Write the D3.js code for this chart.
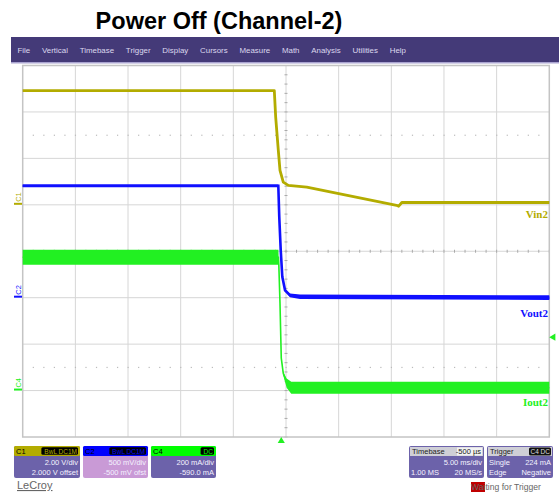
<!DOCTYPE html>
<html><head><meta charset="utf-8">
<script src="https://cdn.jsdelivr.net/npm/d3@7"></script>
<style>body{margin:0;background:#fff}svg{display:block}</style>
</head><body>
<svg id="c" width="559" height="496"></svg>
<script>
// ---------------- data ----------------
const menuItems = ["File","Vertical","Timebase","Trigger","Display","Cursors","Measure","Math","Analysis","Utilities","Help"];

// time in ms relative to screen centre (5 ms/div), levels in divisions
const vinTime  = [-25, -1.11, -0.98, -0.73, -0.57, -0.26, 0.22, 1.97, 10.5, 10.7, 11.0, 25];
const vinLevel = [3.46, 3.46, 2.89, 2.17, 1.74, 1.49, 1.42, 1.38, 0.99, 0.97, 1.05, 1.05];

const voutTime  = [-25, -0.73, -0.64, -0.50, -0.35, -0.09, 0.38, 1.33, 25];
const voutLevel = [1.41, 1.41, 0.74, 0.02, -0.55, -0.84, -0.95, -0.98, -1.0];
const voutNoise = [0.03, 0.03, 0.0, 0.0, 0.0, 0.02, 0.04, 0.05, 0.05];

const ioutTime  = [-25, -0.72, -0.68, -0.57, -0.45, -0.26, 0.06, 0.5, 25];
const ioutLevel = [-0.13, -0.13, -0.3, -1.12, -2.3, -2.63, -2.84, -2.94, -2.94];
const ioutNoise = [0.16, 0.16, 0.01, 0.01, 0.01, 0.03, 0.1, 0.13, 0.13];

const traceNames  = ["Vin2", "Vout2", "Iout2"];
const traceLabelLevel = [0.71, -1.41, -3.34];
const chanMarkers = ["C1", "C2", "C4"];
const chanOffsetDiv = [1, -1, -3];

const boxLabels = ["C1", "C2", "C4"];
const boxBadges = ["BwL DC1M", "BwL DC1M", "DC"];
const boxLine1  = ["2.00 V/div", "500 mV/div", "200 mA/div"];
const boxLine2  = ["2.000 V offset", "-500 mV ofst", "-590.0 mA"];

const tbRows   = [["", "5.00 ms/div"], ["1.00 MS", "20 MS/s"]];
const trigRows = [["Single", "224 mA"], ["Edge", "Negative"]];
const triggerTime = -0.45;   // ms, trigger marker on the time axis
const triggerLevel = -1.85;  // div, trigger level marker

// ---------------- layout ----------------
const svg = d3.select("#c");
const W = 559;
const P = {l: 22.7, r: 549.3, t: 65.5, b: 437};
const col = {yel: "#b3ac00", blue: "#1010ff", green: "#22f022", menu: "#443a78",
             body: "#6c62aa", pink: "#c99ad6", grid: "#d6d6d6"};

const x = d3.scaleLinear().domain([-25, 25]).range([P.l, P.r]);
const y = d3.scaleLinear().domain([-4, 4]).range([P.b, P.t]);

// title
svg.append("text").attr("x", 219).attr("y", 29).attr("text-anchor", "middle")
  .attr("font-family", "Liberation Sans, Arial, sans-serif").attr("font-weight", "bold")
  .attr("font-size", 23.5).attr("fill", "#000").text("Power Off (Channel-2)");

// menu bar
svg.append("rect").attr("x", 11).attr("y", 37).attr("width", W - 11).attr("height", 25).attr("fill", col.menu);
svg.append("rect").attr("x", 11).attr("y", 62).attr("width", W - 11).attr("height", 1.5).attr("fill", "#a9a3d0");
let mx = 17.5;
const mg = svg.append("g");
menuItems.forEach(m => {
  const t = mg.append("text").attr("x", mx).attr("y", 52.5).attr("font-family", "Liberation Sans, Arial, sans-serif")
    .attr("font-size", 7.9).attr("fill", "#dcd8ee").text(m);
  mx += t.node().getComputedTextLength() + 11.8;
});

// grid
const g = svg.append("g");
g.selectAll(".vg").data(d3.range(-20, 25, 5)).join("line")
  .attr("x1", d => x(d)).attr("x2", d => x(d)).attr("y1", P.t).attr("y2", P.b)
  .attr("stroke", col.grid).attr("stroke-width", 1);
g.selectAll(".hg").data(d3.range(-3, 4, 1)).join("line")
  .attr("y1", d => y(d)).attr("y2", d => y(d)).attr("x1", P.l).attr("x2", P.r)
  .attr("stroke", col.grid).attr("stroke-width", 1);
// centre minor ticks
g.selectAll(".tv").data(d3.range(-4, 4.01, 0.2)).join("line")
  .attr("x1", x(0) - 1.5).attr("x2", x(0) + 1.5).attr("y1", d => y(d)).attr("y2", d => y(d))
  .attr("stroke", "#aaa").attr("stroke-width", 1);
g.selectAll(".th").data(d3.range(-25, 25.01, 1)).join("line")
  .attr("y1", y(0) - 1.5).attr("y2", y(0) + 1.5).attr("x1", d => x(d)).attr("x2", d => x(d))
  .attr("stroke", "#aaa").attr("stroke-width", 1);
// dotted rows at +/- 2.5 div
[2.5, -2.5].forEach(lv => {
  g.selectAll(null).data(d3.range(-24, 25, 1)).join("rect")
    .attr("x", d => x(d) - 0.5).attr("y", y(lv) - 0.5).attr("width", 1.2).attr("height", 1.2).attr("fill", "#bbb");
});
g.append("rect").attr("x", P.l).attr("y", P.t).attr("width", P.r - P.l).attr("height", P.b - P.t)
  .attr("fill", "none").attr("stroke", "#c4c4c4").attr("stroke-width", 1.5);

// traces
const line = d3.line().x(d => x(d[0])).y(d => y(d[1]));
const area = d3.area().x(d => x(d[0])).y0(d => y(d[1] - d[2])).y1(d => y(d[1] + d[2]));

svg.append("path").attr("d", line(d3.zip(vinTime, vinLevel)))
  .attr("fill", "none").attr("stroke", col.yel).attr("stroke-width", 2.8).attr("stroke-linejoin", "round");

const vz = d3.zip(voutTime, voutLevel, voutNoise);
svg.append("path").attr("d", area(vz)).attr("fill", col.blue);
svg.append("path").attr("d", line(vz)).attr("fill", "none").attr("stroke", col.blue).attr("stroke-width", 2.6);

const iz = d3.zip(ioutTime, ioutLevel, ioutNoise);
svg.append("path").attr("d", area(iz)).attr("fill", col.green);
svg.append("path").attr("d", line(iz)).attr("fill", "none").attr("stroke", col.green).attr("stroke-width", 1.6);

// trace labels
const tcol = [col.yel, col.blue, col.green];
traceNames.forEach((n, i) => {
  svg.append("text").attr("x", 548).attr("y", y(traceLabelLevel[i])).attr("text-anchor", "end")
    .attr("font-family", "Liberation Serif, Times New Roman, serif").attr("font-weight", "bold")
    .attr("font-size", 11).attr("fill", tcol[i]).text(n);
});

// channel offset markers
chanMarkers.forEach((c, i) => {
  const yy = y(chanOffsetDiv[i]);
  svg.append("line").attr("x1", 14).attr("x2", 22).attr("y1", yy - 1).attr("y2", yy - 1)
    .attr("stroke", tcol[i]).attr("stroke-width", 2);
  svg.append("text").attr("transform", `translate(21,${yy - 3}) rotate(-90)`)
    .attr("font-family", "Liberation Sans, Arial, sans-serif").attr("font-size", 7.5).attr("fill", tcol[i]).text(c);
});

// trigger markers
svg.append("path").attr("d", d3.symbol(d3.symbolTriangle, 22)())
  .attr("transform", `translate(${x(triggerTime)},${P.b + 4})`).attr("fill", col.green);
svg.append("path").attr("d", d3.symbol(d3.symbolTriangle, 22)())
  .attr("transform", `translate(${P.r + 4},${y(triggerLevel)}) rotate(-90)`).attr("fill", col.green);

// channel boxes
const fs = "Liberation Sans, Arial, sans-serif";
const hcol = [col.yel, "#0000ff", "#00ff00"];
const bcol = [col.body, col.pink, col.body];
const bx = [14, 83, 151], bw = [66, 65, 65];
boxLabels.forEach((lab, i) => {
  const gb = svg.append("g").attr("transform", `translate(${bx[i]},446)`);
  gb.append("rect").attr("width", bw[i]).attr("height", 32).attr("rx", 2).attr("fill", bcol[i]);
  gb.append("rect").attr("width", bw[i]).attr("height", 10).attr("rx", 1.5).attr("fill", hcol[i]);
  gb.append("text").attr("x", 2).attr("y", 8).attr("font-family", fs).attr("font-size", 7.5).attr("fill", "#000").text(lab);
  const bt = gb.append("text").attr("x", bw[i] - 3).attr("y", 7.8).attr("text-anchor", "end")
    .attr("font-family", fs).attr("font-size", 6.5).attr("fill", hcol[i]).text(boxBadges[i]);
  const tw = bt.node().getComputedTextLength();
  gb.insert("rect", "text:last-of-type").attr("x", bw[i] - 4 - tw - 2).attr("y", 1.2)
    .attr("width", tw + 4).attr("height", 7.6).attr("rx", 1.5).attr("fill", "#000");
  gb.append("text").attr("x", bw[i] - 2).attr("y", 19).attr("text-anchor", "end").attr("font-family", fs)
    .attr("font-size", 7.5).attr("fill", "#f4f2ff").text(boxLine1[i]);
  gb.append("text").attr("x", bw[i] - 2).attr("y", 28.5).attr("text-anchor", "end").attr("font-family", fs)
    .attr("font-size", 7.5).attr("fill", "#f4f2ff").text(boxLine2[i]);
});

// timebase / trigger boxes
function infoBox(x0, w, title, right, rows, badge) {
  const gb = svg.append("g").attr("transform", `translate(${x0},446)`);
  gb.append("rect").attr("width", w).attr("height", 32).attr("rx", 2).attr("fill", col.body);
  gb.append("rect").attr("x", 1).attr("y", 1).attr("width", w - 2).attr("height", 9).attr("fill", "#cfcfd6");
  gb.append("text").attr("x", 3).attr("y", 8.2).attr("font-family", fs).attr("font-size", 7.5).attr("fill", "#222").text(title);
  if (right) {
    gb.append("rect").attr("x", w - 27).attr("y", 1.5).attr("width", 25).attr("height", 8).attr("fill", "#f2f2f2");
    gb.append("text").attr("x", w - 3).attr("y", 8.2).attr("text-anchor", "end").attr("font-family", fs)
      .attr("font-size", 7.5).attr("fill", "#222").text(right);
  }
  if (badge) {
    gb.append("rect").attr("x", w - 24).attr("y", 1.5).attr("width", 22).attr("height", 8).attr("rx", 1.5).attr("fill", "#111");
    gb.append("text").attr("x", w - 3).attr("y", 8).attr("text-anchor", "end").attr("font-family", fs)
      .attr("font-size", 6.5).attr("fill", "#ddd").text(badge);
  }
  rows.forEach((r, k) => {
    gb.append("text").attr("x", 2).attr("y", 19 + k * 9.5).attr("font-family", fs).attr("font-size", 7.5).attr("fill", "#f4f2ff").text(r[0]);
    gb.append("text").attr("x", w - 2).attr("y", 19 + k * 9.5).attr("text-anchor", "end").attr("font-family", fs)
      .attr("font-size", 7.5).attr("fill", "#f4f2ff").text(r[1]);
  });
}
infoBox(409, 75, "Timebase", "-500 µs", tbRows, null);
infoBox(487, 66, "Trigger", null, trigRows, "C4 DC");

// status
svg.append("rect").attr("x", 471).attr("y", 482).attr("width", 14).attr("height", 10).attr("fill", "#c00000");
svg.append("text").attr("x", 471).attr("y", 490).attr("font-family", fs).attr("font-size", 8.6)
  .attr("fill", "#666").text("Waiting for Trigger");
svg.append("text").attr("x", 17).attr("y", 489).attr("font-family", fs).attr("font-size", 11)
  .attr("fill", "#666").attr("text-decoration", "underline").text("LeCroy");
</script>
</body></html>
